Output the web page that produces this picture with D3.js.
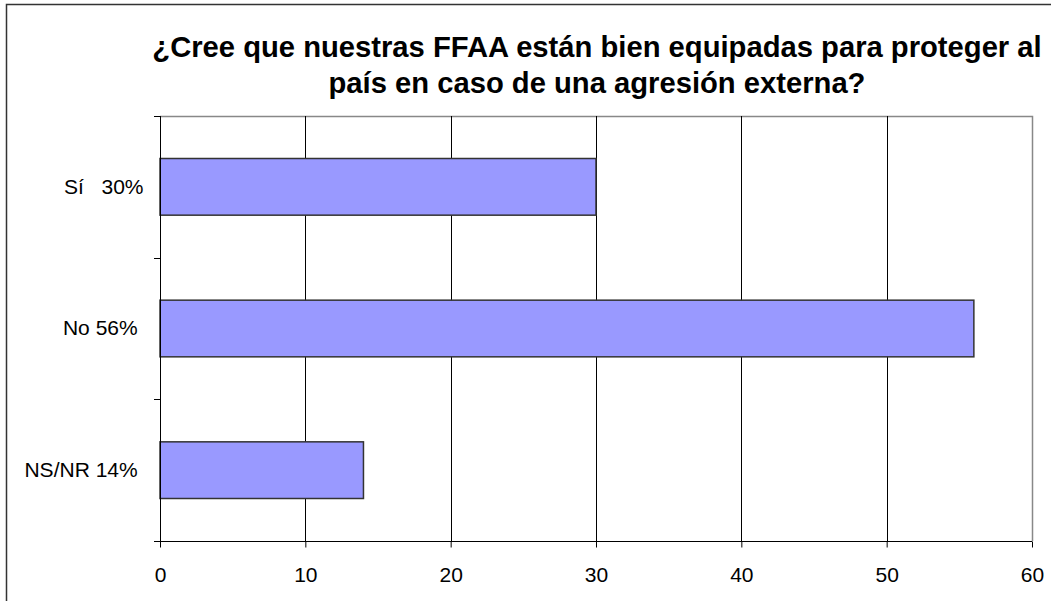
<!DOCTYPE html>
<html>
<head>
<meta charset="utf-8">
<script src="https://cdn.jsdelivr.net/npm/d3@7"></script>
<style>
  body { margin: 0; background: #fff; }
  svg { display: block; font-family: "Liberation Sans", Arial, sans-serif; }
</style>
</head>
<body>
<svg id="chart" width="1051" height="601"></svg>
<script>
const categories = ['Sí   30%', 'No 56% ', 'NS/NR 14% '];
const values = [30, 56, 14];
const xTicks = [0, 10, 20, 30, 40, 50, 60];
const titleLines = ['¿Cree que nuestras FFAA están bien equipadas para proteger al', 'país en caso de una agresión externa?'];

const svg = d3.select('#chart');
const W = 1051, H = 601;
const plot = { left: 160, right: 1032, top: 116, bottom: 541 };

// outer frame (only top and left edges are inside the picture)
svg.append('path')
  .attr('d', `M6.5,${H}V4.5H${W}`)
  .attr('fill', 'none')
  .attr('stroke', '#333')
  .attr('stroke-width', 1.5);

const x = d3.scaleLinear().domain([0, 60]).range([plot.left, plot.right]);
const y = d3.scaleBand().domain(categories)
  .range([plot.top, plot.bottom])
  .paddingInner(0.6).paddingOuter(0.3);

// title
svg.append('g').selectAll('text')
  .data(titleLines)
  .enter().append('text')
    .attr('x', (plot.left + plot.right) / 2 + 1)
    .attr('y', (d, i) => 57 + i * 36)
    .attr('text-anchor', 'middle')
    .attr('font-size', 29.2)
    .attr('font-weight', 'bold')
    .attr('fill', '#000')
    .text(d => d);

// plot border (top / right)
svg.append('path')
  .attr('d', `M${plot.left},${plot.top + 0.5}H${plot.right + 0.5}V${plot.bottom}`)
  .attr('fill', 'none')
  .attr('stroke', '#888')
  .attr('stroke-width', 1.5);

// vertical grid lines
svg.append('g').selectAll('line')
  .data(xTicks.filter(d => d > 0 && d < 60))
  .enter().append('line')
    .attr('x1', d => Math.round(x(d)) + 0.5)
    .attr('x2', d => Math.round(x(d)) + 0.5)
    .attr('y1', plot.top)
    .attr('y2', plot.bottom)
    .attr('stroke', '#000')
    .attr('stroke-width', 1);

// bars
svg.append('g').selectAll('rect')
  .data(values)
  .enter().append('rect')
    .attr('x', x(0))
    .attr('y', (d, i) => y(categories[i]))
    .attr('width', d => x(d) - x(0))
    .attr('height', y.bandwidth())
    .attr('fill', '#9999ff')
    .attr('stroke', '#333')
    .attr('stroke-width', 1.5);

// x axis
const xAxis = svg.append('g')
  .attr('transform', `translate(0,${plot.bottom + 0.5})`)
  .call(d3.axisBottom(x).tickValues(xTicks).tickSize(6).tickSizeOuter(0).tickPadding(20));
xAxis.select('.domain').attr('stroke', '#000').attr('d', `M${plot.left - 6},0H${plot.right}`);
xAxis.selectAll('.tick line').attr('stroke', '#000');
xAxis.selectAll('.tick text')
  .attr('font-family', '"Liberation Sans", Arial, sans-serif')
  .attr('font-size', 21)
  .attr('fill', '#000');

// y axis
const yAxis = svg.append('g')
  .attr('transform', `translate(${plot.left + 0.5},0)`)
  .call(d3.axisLeft(y).tickSize(0).tickPadding(17));
yAxis.select('.domain').attr('stroke', '#000').attr('d', `M0,${plot.top}V${plot.bottom}`);
yAxis.selectAll('.tick text')
  .attr('font-family', '"Liberation Sans", Arial, sans-serif')
  .attr('font-size', 21)
  .attr('fill', '#000')
  .style('white-space', 'pre');

// category boundary ticks
const bounds = d3.range(categories.length + 1).map(i => plot.top + i * (plot.bottom - plot.top) / categories.length);
svg.append('g').selectAll('line')
  .data(bounds)
  .enter().append('line')
    .attr('x1', plot.left - 6)
    .attr('x2', plot.left)
    .attr('y1', d => Math.round(d) + 0.5)
    .attr('y2', d => Math.round(d) + 0.5)
    .attr('stroke', '#000');
</script>
</body>
</html>
